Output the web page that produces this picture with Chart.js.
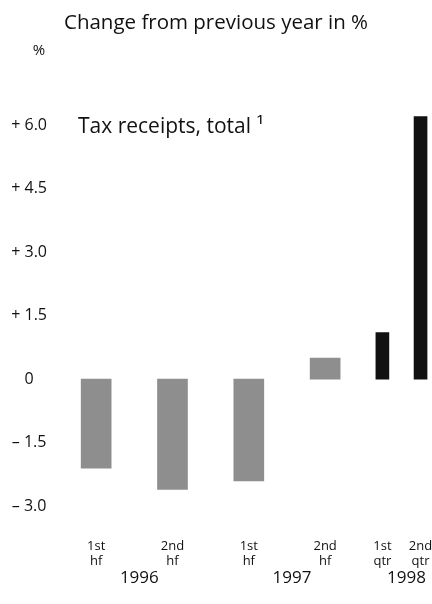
<!DOCTYPE html>
<html>
<head>
<meta charset="utf-8">
<script src="https://cdn.jsdelivr.net/npm/chart.js@4.4.1/dist/chart.umd.min.js"></script>
<style>
  html, body { margin: 0; padding: 0; background: #fff; }
  #wrap { width: 432px; height: 604px; }
</style>
</head>
<body>
<div id="wrap"><canvas id="c"></canvas></div>
<script>
// Tax receipts, change from previous year in %
const halfYearMid = [1996.25, 1996.75, 1997.25, 1997.75];
const halfYearValues = [-2.1, -2.6, -2.4, 0.5];
const quarterMid = [1998.125, 1998.375];
const quarterValues = [1.1, 6.2];
const periodLabels = [['1st', 'hf'], ['2nd', 'hf'], ['1st', 'hf'], ['2nd', 'hf'], ['1st', 'qtr'], ['2nd', 'qtr']];
const yearLabels = ['1996', '1997', '1998'];
const yTickValues = [-3, -1.5, 0, 1.5, 3, 4.5, 6];

const periodMid = halfYearMid.concat(quarterMid);
// each year label sits in the middle of that year's periods
const yearMid = yearLabels.map(y => {
  const m = periodMid.filter(p => Math.floor(p) === Number(y));
  return m.reduce((a, b) => a + b, 0) / m.length;
});

const SANS = '"Open Sans", "DejaVu Sans", sans-serif';
const INK = '#111';

const fmtY = v => v === 0 ? '0' : (v > 0 ? '+ ' : '\u2013 ') + Math.abs(v).toFixed(1);

// fixed axis bands, without label overhang padding
const band = (w, h) => s => {
  if (w) s.width = w;
  if (h) s.height = h;
  s.paddingLeft = 0; s.paddingRight = 0; s.paddingTop = 0; s.paddingBottom = 0;
};

const notes = {
  id: 'notes',
  afterDraw(chart) {
    const {ctx, chartArea, scales} = chart;
    ctx.save();
    ctx.fillStyle = INK;
    ctx.textBaseline = 'middle';
    ctx.textAlign = 'center';
    ctx.font = '15px ' + SANS;
    ctx.fillText('%', 39, chartArea.top - 49);
    ctx.textAlign = 'left';
    ctx.font = '21px ' + SANS;
    ctx.fillText('Tax receipts, total \u00B9', chartArea.left + 20, scales.y.getPixelForValue(6) + 2);
    ctx.restore();
  }
};

new Chart(document.getElementById('c'), {
  type: 'bar',
  data: {
    datasets: [
      {
        label: 'Half-year',
        data: halfYearMid.map((x, i) => ({x, y: halfYearValues[i]})),
        backgroundColor: '#8e8e8e',
        barThickness: 30,
        grouped: false
      },
      {
        label: 'Quarter',
        data: quarterMid.map((x, i) => ({x, y: quarterValues[i]})),
        backgroundColor: '#111111',
        barThickness: 13,
        grouped: false
      }
    ]
  },
  options: {
    responsive: true,
    maintainAspectRatio: false,
    devicePixelRatio: 1,
    animation: false,
    layout: {padding: {left: 0, right: 0, top: 0, bottom: 15}},
    plugins: {
      legend: {display: false},
      tooltip: {enabled: false},
      title: {
        display: true,
        text: 'Change from previous year in %',
        color: INK,
        font: {family: SANS, size: 20.5, weight: 'normal'},
        padding: {top: 11, bottom: 64}
      }
    },
    scales: {
      x: {
        type: 'linear',
        offset: false,
        min: 1996,
        max: 1998.45,
        grid: {display: false, drawTicks: false},
        border: {display: false},
        afterBuildTicks: s => { s.ticks = periodMid.map(v => ({value: v})); },
        afterFit: band(0, 49),
        ticks: {
          autoSkip: false,
          maxRotation: 0,
          padding: 20,
          color: INK,
          font: {family: SANS, size: 13, lineHeight: 1.15},
          callback: v => {
            const i = periodMid.findIndex(m => Math.abs(m - v) < 1e-6);
            return i >= 0 ? periodLabels[i] : '';
          }
        }
      },
      xYear: {
        type: 'linear',
        position: 'bottom',
        offset: false,
        min: 1996,
        max: 1998.45,
        grid: {display: false, drawTicks: false},
        border: {display: false},
        afterBuildTicks: s => { s.ticks = yearMid.map(v => ({value: v})); },
        afterFit: band(0, 21),
        ticks: {
          autoSkip: false,
          maxRotation: 0,
          padding: 0,
          labelOffset: 5,
          color: INK,
          font: {family: SANS, size: 17, lineHeight: 1.2},
          callback: v => {
            const i = yearMid.findIndex(m => Math.abs(m - v) < 1e-6);
            return i >= 0 ? yearLabels[i] : '';
          }
        }
      },
      y: {
        type: 'linear',
        min: -3.3,
        max: 6.6,
        grid: {display: false, drawTicks: false},
        border: {display: false},
        afterBuildTicks: s => { s.ticks = yTickValues.map(v => ({value: v})); },
        afterFit: band(58, 0),
        ticks: {
          crossAlign: 'center',
          padding: 11,
          color: INK,
          font: {family: SANS, size: 16},
          callback: v => fmtY(v)
        }
      }
    }
  },
  plugins: [notes]
});
</script>
</body>
</html>
